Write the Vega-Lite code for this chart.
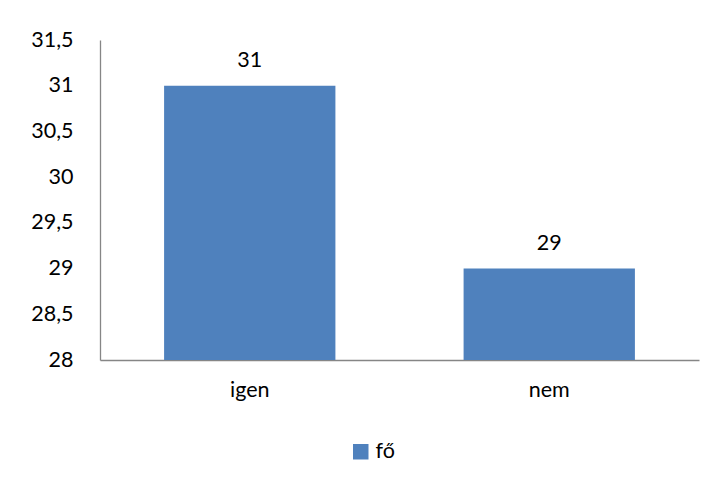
{
  "$schema": "https://vega.github.io/schema/vega-lite/v6.json",
  "width": 599,
  "height": 320,
  "autosize": {"type": "none"},
  "padding": {"left": 100, "top": 40, "right": 21, "bottom": 124},
  "background": "white",
  "config": {
    "font": "Lato",
    "view": {"stroke": null},
    "axis": {"labelFont": "Lato", "labelFontSize": 21.5, "labelColor": "#000000", "domainColor": "#868686", "domainWidth": 1.3, "ticks": false, "grid": false, "title": null}
  },
  "data": {"values": [
    {"kategoria": "igen", "sorozat": "fő", "ertek": 31},
    {"kategoria": "nem", "sorozat": "fő", "ertek": 29}
  ]},
  "layer": [
    {
      "mark": {"type": "bar", "clip": true},
      "encoding": {
        "x": {"field": "kategoria", "type": "nominal", "sort": null,
              "scale": {"paddingInner": 0.428, "paddingOuter": 0.214},
              "axis": {"labelAngle": 0, "labelPadding": 19, "title": null}},
        "y": {"field": "ertek", "type": "quantitative",
              "scale": {"domain": [28, 31.5], "zero": false, "nice": false},
              "axis": {"values": [28, 28.5, 29, 29.5, 30, 30.5, 31, 31.5], "labelPadding": 27, "title": null,
                       "labelExpr": "replace(format(datum.value, '.1~f'), '.', ',')"}},
        "color": {"field": "sorozat", "type": "nominal",
                  "scale": {"range": ["#4f81bd"]},
                  "legend": {"orient": "none", "legendX": 250, "legendY": 401, "title": null, "symbolType": "square", "symbolSize": 240,
                             "symbolStrokeWidth": 0, "labelFontSize": 21.5, "labelFont": "Lato", "labelColor": "#000000", "labelOffset": 4}}
      }
    },
    {
      "mark": {"type": "text", "baseline": "bottom", "dy": -14, "fontSize": 21.5, "font": "Lato", "color": "#000000"},
      "encoding": {
        "x": {"field": "kategoria", "type": "nominal", "sort": null},
        "y": {"field": "ertek", "type": "quantitative"},
        "text": {"field": "ertek", "type": "quantitative"}
      }
    }
  ]
}
